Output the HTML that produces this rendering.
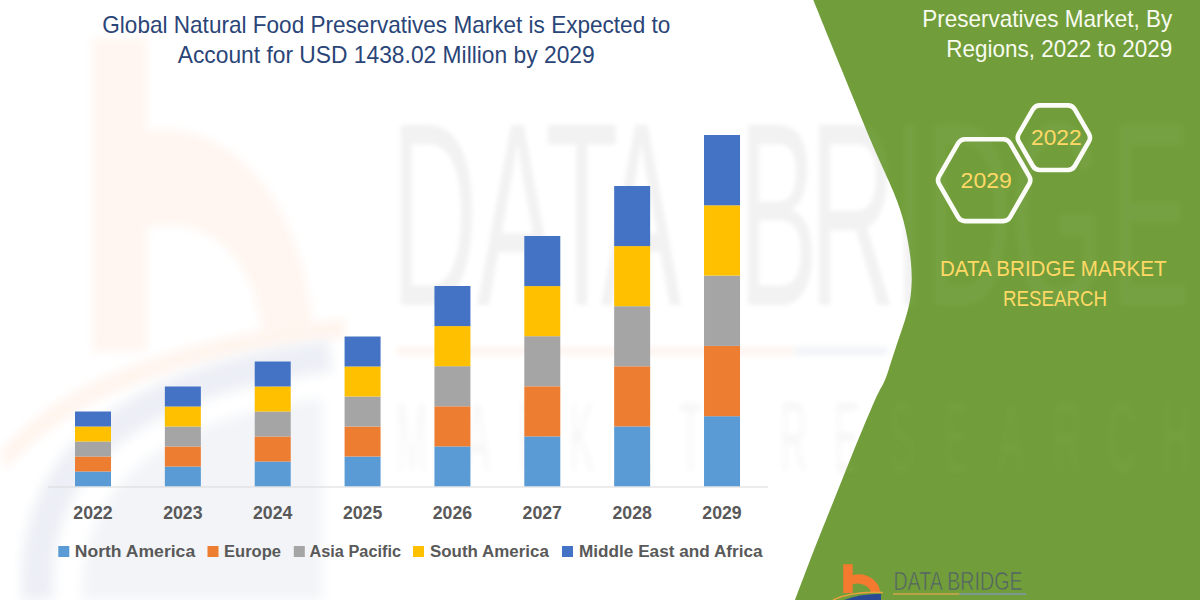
<!DOCTYPE html>
<html><head><meta charset="utf-8"><style>
html,body{margin:0;padding:0;background:#fff;overflow:hidden}
svg{display:block}
text{font-family:"Liberation Sans",sans-serif}
.yr{font-size:17.7px;font-weight:700;fill:#595959}
.lg{font-size:17.4px;font-weight:700;fill:#595959}
.ttl{font-size:23.6px;fill:#2a4577}
.wt{font-size:23.8px;fill:#f8fbf0}
.hx{font-size:22.4px;fill:#ffd966}
.dbm{font-size:22.7px;fill:#ffd966}
</style></head><body>
<svg width="1200" height="600" viewBox="0 0 1200 600">
<defs>
<filter id="blur4" x="-20%" y="-20%" width="140%" height="140%"><feGaussianBlur stdDeviation="4"/></filter>
<filter id="blur6" x="-20%" y="-20%" width="140%" height="140%"><feGaussianBlur stdDeviation="6"/></filter>
<filter id="blur3" x="-20%" y="-100%" width="140%" height="300%"><feGaussianBlur stdDeviation="3"/></filter>
<filter id="blur2" x="-20%" y="-20%" width="140%" height="140%"><feGaussianBlur stdDeviation="2"/></filter>
<clipPath id="gclip"><path d="M813.3,0.0 C818.0,11.7 832.3,46.7 841.8,70.0 C851.3,93.3 862.8,121.7 870.5,140.0 C878.2,158.3 883.9,170.0 888.3,180.0 C892.7,190.0 894.2,193.3 896.7,200.0 C899.2,206.7 901.5,213.3 903.3,220.0 C905.1,226.7 906.5,233.3 907.7,240.0 C908.9,246.7 910.0,253.3 910.7,260.0 C911.4,266.7 911.8,273.3 911.7,280.0 C911.6,286.7 911.1,293.3 910.0,300.0 C908.9,306.7 907.0,313.3 905.0,320.0 C903.0,326.7 900.5,333.3 898.3,340.0 C896.1,346.7 893.9,353.3 891.7,360.0 C889.5,366.7 887.8,373.3 885.0,380.0 C882.2,386.7 880.2,388.3 875.0,400.0 C869.8,411.7 860.8,433.3 854.0,450.0 C847.2,466.7 840.7,483.3 834.0,500.0 C827.3,516.7 820.5,533.3 814.0,550.0 C807.5,566.7 798.2,591.7 795.0,600.0 L1200,600 L1200,0 Z"/></clipPath>
<g id="wm">
<g filter="url(#blur2)" font-size="262"><g transform="translate(0,305) scale(0.46,1)"><text x="850.0" y="0">D</text><text x="1037.0" y="0">A</text><text x="1184.8" y="0">T</text><text x="1306.5" y="0">A</text><text x="1604.3" y="0">B</text><text x="1758.7" y="0">R</text><text x="1941.3" y="0">I</text><text x="2010.9" y="0">D</text><text x="2195.7" y="0">G</text><text x="2413.0" y="0">E</text></g></g>
<g filter="url(#blur3)" font-size="100" opacity="0.75"><g transform="translate(0,472) scale(0.38,1)"><text x="1042.1" y="0">M</text><text x="1223.7" y="0">A</text><text x="1363.2" y="0">R</text><text x="1497.4" y="0">K</text><text x="1650.0" y="0">E</text><text x="1786.8" y="0">T</text><text x="2052.6" y="0">R</text><text x="2194.7" y="0">E</text><text x="2339.5" y="0">S</text><text x="2484.2" y="0">E</text><text x="2626.3" y="0">A</text><text x="2773.7" y="0">R</text><text x="2915.8" y="0">C</text><text x="3057.9" y="0">H</text></g></g></g>
</defs>
<rect width="1200" height="600" fill="#ffffff"/>
<!-- watermark b logo -->
<g filter="url(#blur4)">
  <path d="M92,38 L147,38 L147,131 C215,118 302,180 314,334 L262,334 C256,262 212,214 147,228 L147,352 L92,352 Z" fill="#fff6f1"/>
  <path d="M0,452 C50,392 150,340 345,318 L345,338 C170,358 70,400 6,470 Z" fill="#fff5ef"/>
</g>
<g filter="url(#blur6)">
  <path d="M82,600 C82,500 135,425 322,398 L322,600 Z" fill="#f2f4f7"/>
  <path d="M38,600 C30,480 100,385 330,356" fill="none" stroke="#eceff5" stroke-width="32"/>
</g>
<use href="#wm" fill="#000" fill-opacity="0.05"/>
<rect x="397" y="347.5" width="398" height="7" fill="#fdf3ec" filter="url(#blur3)"/>
<rect x="795" y="347.5" width="92" height="7" fill="#eef1f6" filter="url(#blur3)"/>
<path d="M813.3,0.0 C818.0,11.7 832.3,46.7 841.8,70.0 C851.3,93.3 862.8,121.7 870.5,140.0 C878.2,158.3 883.9,170.0 888.3,180.0 C892.7,190.0 894.2,193.3 896.7,200.0 C899.2,206.7 901.5,213.3 903.3,220.0 C905.1,226.7 906.5,233.3 907.7,240.0 C908.9,246.7 910.0,253.3 910.7,260.0 C911.4,266.7 911.8,273.3 911.7,280.0 C911.6,286.7 911.1,293.3 910.0,300.0 C908.9,306.7 907.0,313.3 905.0,320.0 C903.0,326.7 900.5,333.3 898.3,340.0 C896.1,346.7 893.9,353.3 891.7,360.0 C889.5,366.7 887.8,373.3 885.0,380.0 C882.2,386.7 880.2,388.3 875.0,400.0 C869.8,411.7 860.8,433.3 854.0,450.0 C847.2,466.7 840.7,483.3 834.0,500.0 C827.3,516.7 820.5,533.3 814.0,550.0 C807.5,566.7 798.2,591.7 795.0,600.0 L1200,600 L1200,0 Z" fill="#719e3a"/>
<g clip-path="url(#gclip)"><use href="#wm" fill="#e0e0e0" fill-opacity="0.045"/></g>
<rect x="75.00" y="471.50" width="36.0" height="15.00" fill="#5B9BD5"/>
<rect x="75.00" y="456.50" width="36.0" height="15.00" fill="#ED7D31"/>
<rect x="75.00" y="441.50" width="36.0" height="15.00" fill="#A5A5A5"/>
<rect x="75.00" y="426.50" width="36.0" height="15.00" fill="#FFC000"/>
<rect x="75.00" y="411.50" width="36.0" height="15.00" fill="#4472C4"/>
<rect x="164.86" y="466.50" width="36.0" height="20.00" fill="#5B9BD5"/>
<rect x="164.86" y="446.50" width="36.0" height="20.00" fill="#ED7D31"/>
<rect x="164.86" y="426.50" width="36.0" height="20.00" fill="#A5A5A5"/>
<rect x="164.86" y="406.50" width="36.0" height="20.00" fill="#FFC000"/>
<rect x="164.86" y="386.50" width="36.0" height="20.00" fill="#4472C4"/>
<rect x="254.72" y="461.50" width="36.0" height="25.00" fill="#5B9BD5"/>
<rect x="254.72" y="436.50" width="36.0" height="25.00" fill="#ED7D31"/>
<rect x="254.72" y="411.50" width="36.0" height="25.00" fill="#A5A5A5"/>
<rect x="254.72" y="386.50" width="36.0" height="25.00" fill="#FFC000"/>
<rect x="254.72" y="361.50" width="36.0" height="25.00" fill="#4472C4"/>
<rect x="344.58" y="456.50" width="36.0" height="30.00" fill="#5B9BD5"/>
<rect x="344.58" y="426.50" width="36.0" height="30.00" fill="#ED7D31"/>
<rect x="344.58" y="396.50" width="36.0" height="30.00" fill="#A5A5A5"/>
<rect x="344.58" y="366.50" width="36.0" height="30.00" fill="#FFC000"/>
<rect x="344.58" y="336.50" width="36.0" height="30.00" fill="#4472C4"/>
<rect x="434.44" y="446.40" width="36.0" height="40.10" fill="#5B9BD5"/>
<rect x="434.44" y="406.30" width="36.0" height="40.10" fill="#ED7D31"/>
<rect x="434.44" y="366.20" width="36.0" height="40.10" fill="#A5A5A5"/>
<rect x="434.44" y="326.10" width="36.0" height="40.10" fill="#FFC000"/>
<rect x="434.44" y="286.00" width="36.0" height="40.10" fill="#4472C4"/>
<rect x="524.30" y="436.40" width="36.0" height="50.10" fill="#5B9BD5"/>
<rect x="524.30" y="386.30" width="36.0" height="50.10" fill="#ED7D31"/>
<rect x="524.30" y="336.20" width="36.0" height="50.10" fill="#A5A5A5"/>
<rect x="524.30" y="286.10" width="36.0" height="50.10" fill="#FFC000"/>
<rect x="524.30" y="236.00" width="36.0" height="50.10" fill="#4472C4"/>
<rect x="614.16" y="426.40" width="36.0" height="60.10" fill="#5B9BD5"/>
<rect x="614.16" y="366.30" width="36.0" height="60.10" fill="#ED7D31"/>
<rect x="614.16" y="306.20" width="36.0" height="60.10" fill="#A5A5A5"/>
<rect x="614.16" y="246.10" width="36.0" height="60.10" fill="#FFC000"/>
<rect x="614.16" y="186.00" width="36.0" height="60.10" fill="#4472C4"/>
<rect x="704.02" y="416.20" width="36.0" height="70.30" fill="#5B9BD5"/>
<rect x="704.02" y="345.90" width="36.0" height="70.30" fill="#ED7D31"/>
<rect x="704.02" y="275.60" width="36.0" height="70.30" fill="#A5A5A5"/>
<rect x="704.02" y="205.30" width="36.0" height="70.30" fill="#FFC000"/>
<rect x="704.02" y="135.00" width="36.0" height="70.30" fill="#4472C4"/>

<line x1="48" y1="487" x2="768" y2="487" stroke="#d9d9d9" stroke-width="1"/>
<text x="93.00" y="518.7" text-anchor="middle" class="yr">2022</text>
<text x="182.86" y="518.7" text-anchor="middle" class="yr">2023</text>
<text x="272.72" y="518.7" text-anchor="middle" class="yr">2024</text>
<text x="362.58" y="518.7" text-anchor="middle" class="yr">2025</text>
<text x="452.44" y="518.7" text-anchor="middle" class="yr">2026</text>
<text x="542.30" y="518.7" text-anchor="middle" class="yr">2027</text>
<text x="632.16" y="518.7" text-anchor="middle" class="yr">2028</text>
<text x="722.02" y="518.7" text-anchor="middle" class="yr">2029</text>

<!-- legend -->
<rect x="58.3" y="546" width="11" height="11" fill="#5B9BD5"/>
<text x="74.75" y="556.75" class="lg" textLength="120.4" lengthAdjust="spacingAndGlyphs">North America</text>
<rect x="207.5" y="546" width="11" height="11" fill="#ED7D31"/>
<text x="224" y="556.75" class="lg" textLength="57" lengthAdjust="spacingAndGlyphs">Europe</text>
<rect x="293.8" y="546" width="11" height="11" fill="#A5A5A5"/>
<text x="309.5" y="556.75" class="lg" textLength="91.5" lengthAdjust="spacingAndGlyphs">Asia Pacific</text>
<rect x="413" y="546" width="11" height="11" fill="#FFC000"/>
<text x="430" y="556.75" class="lg" textLength="118.8" lengthAdjust="spacingAndGlyphs">South America</text>
<rect x="562" y="546" width="11" height="11" fill="#4472C4"/>
<text x="579" y="556.75" class="lg" textLength="183.6" lengthAdjust="spacingAndGlyphs">Middle East and Africa</text>
<!-- title -->
<text x="102.3" y="33" class="ttl" textLength="568" lengthAdjust="spacingAndGlyphs">Global Natural Food Preservatives Market is Expected to</text>
<text x="177.7" y="63" class="ttl" textLength="417" lengthAdjust="spacingAndGlyphs">Account for USD 1438.02 Million by 2029</text>
<!-- right title -->
<text x="922.3" y="27.4" class="wt" textLength="250" lengthAdjust="spacingAndGlyphs">Preservatives Market, By</text>
<text x="946.3" y="57.2" class="wt" textLength="226" lengthAdjust="spacingAndGlyphs">Regions, 2022 to 2029</text>
<!-- hexagons -->
<path d="M1029.14,176.15 A8.00,8.00 0 0 1 1029.14,184.15 L1010.11,217.11 A8.00,8.00 0 0 1 1003.18,221.11 L965.12,221.11 A8.00,8.00 0 0 1 958.19,217.11 L939.16,184.15 A8.00,8.00 0 0 1 939.16,176.15 L958.19,143.19 A8.00,8.00 0 0 1 965.12,139.19 L1003.18,139.19 A8.00,8.00 0 0 1 1010.11,143.19 Z" fill="none" stroke="#fbfcf8" stroke-width="4.6"/>
<path d="M1088.84,133.70 A8.00,8.00 0 0 1 1088.84,141.70 L1074.81,166.00 A8.00,8.00 0 0 1 1067.88,170.00 L1039.82,170.00 A8.00,8.00 0 0 1 1032.89,166.00 L1018.86,141.70 A8.00,8.00 0 0 1 1018.86,133.70 L1032.89,109.40 A8.00,8.00 0 0 1 1039.82,105.40 L1067.88,105.40 A8.00,8.00 0 0 1 1074.81,109.40 Z" fill="none" stroke="#fbfcf8" stroke-width="4.6"/>
<text x="960.6" y="187.9" class="hx" textLength="51.2" lengthAdjust="spacingAndGlyphs">2029</text>
<text x="1031.0" y="144.8" class="hx" textLength="50.6" lengthAdjust="spacingAndGlyphs">2022</text>
<text x="940" y="275.6" class="dbm" textLength="226.5" lengthAdjust="spacingAndGlyphs">DATA BRIDGE MARKET</text>
<text x="1003" y="305.8" class="dbm" textLength="104" lengthAdjust="spacingAndGlyphs">RESEARCH</text>
<!-- bottom logo -->
<path d="M843.2,564.3 L852.7,564.3 L852.7,575 C866,572 879,580 880.3,592.5 L871.2,592.5 C869,586 862,582 852.7,584 L852.7,593 L843.2,593 Z" fill="#f47a30"/>
<path d="M833,600 Q852,591 883,592.5" fill="none" stroke="#e9a040" stroke-width="1.4"/>
<path d="M844,600 Q860,593.5 881,594 L881,600 Z" fill="#2b4a96"/>
<text x="893.4" y="590.2" font-size="25" fill="#525d68" stroke="#719e3a" stroke-width="0.7" textLength="129.2" lengthAdjust="spacingAndGlyphs">DATA BRIDGE</text>
<rect x="893" y="593.2" width="66.5" height="1.6" fill="#c9a64a"/>
<rect x="959.5" y="593.2" width="66.5" height="1.6" fill="#7f97a8"/>
</svg>
</body></html>
